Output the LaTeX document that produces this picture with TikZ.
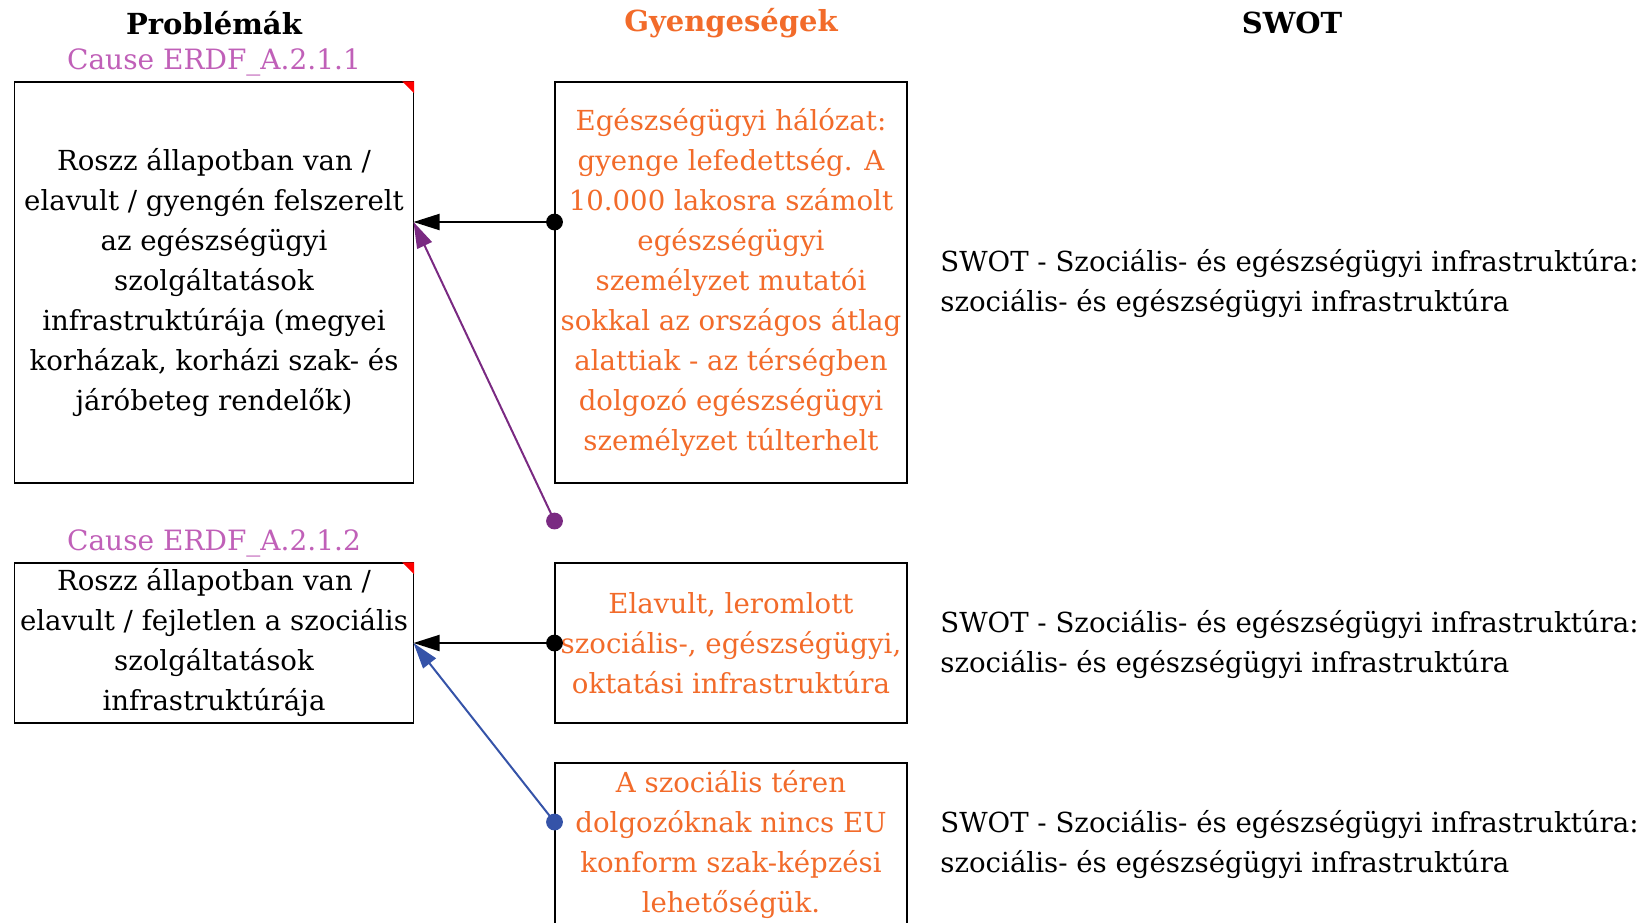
\documentclass[tikz,border=0pt]{standalone}
\usepackage{fontspec}
\setmainfont{DejaVu Serif}
\usetikzlibrary{arrows.meta}
\definecolor{weakorange}{HTML}{F26B2A}
\definecolor{causepink}{HTML}{C060B8}
\definecolor{linkpurple}{HTML}{7A2A82}
\definecolor{linkblue}{HTML}{3553A8}
\begin{document}
\begin{tikzpicture}[x=0.5pt,y=-0.5pt,
  box/.style={draw,line width=0.7pt,inner sep=0pt,align=center,font=\fontsize{13.8}{20}\selectfont},
  probbox/.style={box,minimum width=199.5pt},
  weakbox/.style={box,minimum width=176pt,text=weakorange},
  head/.style={font=\fontsize{14.5}{16}\selectfont\bfseries},
  cause/.style={text=causepink,font=\fontsize{14}{16}\selectfont},
  swot/.style={anchor=west,align=left,inner sep=0pt,font=\fontsize{13.8}{20}\selectfont},
  link/.style={line width=1pt,-{Triangle[length=13pt,width=8pt]}},
  pin/.style={radius=4.2pt}]
\useasboundingbox (0,0) rectangle (1650,922);

% headers
\node[head] (hprob) at (214,23) {Problémák};
\node[head,text=weakorange] (hweak) at (731,23) {Gyengeségek};
\node[head] (hswot) at (1292,23) {SWOT};

% problems
\node[cause] (c1) at (214,62) {Cause ERDF\_A.2.1.1};
\node[probbox,minimum height=200.5pt] (p1) at (214,282.5) {Roszz állapotban van /\\elavult / gyengén felszerelt\\az egészségügyi\\szolgáltatások\\infrastruktúrája (megyei\\korházak, korházi szak- és\\járóbeteg rendelők)};
\node[cause] (c2) at (214,543) {Cause ERDF\_A.2.1.2};
\node[probbox,minimum height=80pt] (p2) at (214,643) {Roszz állapotban van /\\elavult / fejletlen a szociális\\szolgáltatások\\infrastruktúrája};
\fill[red] (p1.north east) -- ++(-12,0) -- ++(12,12) -- cycle;
\fill[red] (p2.north east) -- ++(-12,0) -- ++(12,12) -- cycle;

% weaknesses
\node[weakbox,minimum height=200.5pt] (w1) at (731,282.5) {Egészségügyi hálózat:\\gyenge lefedettség. A\\10.000 lakosra számolt\\egészségügyi\\személyzet mutatói\\sokkal az országos átlag\\alattiak - az térségben\\dolgozó egészségügyi\\személyzet túlterhelt};
\node[weakbox,minimum height=80pt] (w2) at (731,643) {Elavult, leromlott\\szociális-, egészségügyi,\\oktatási infrastruktúra};
\node[weakbox,minimum height=82pt] (w3) at (731,845) {A szociális téren\\dolgozóknak nincs EU\\konform szak-képzési\\lehetőségük.};

% swot
\node[swot] (s1) at (940,284) {SWOT - Szociális- és egészségügyi infrastruktúra:\\szociális- és egészségügyi infrastruktúra};
\node[swot] (s2) at (940,645) {SWOT - Szociális- és egészségügyi infrastruktúra:\\szociális- és egészségügyi infrastruktúra};
\node[swot] (s3) at (940,845) {SWOT - Szociális- és egészségügyi infrastruktúra:\\szociális- és egészségügyi infrastruktúra};

% links
\coordinate (p1pin) at (413.5,222);
\coordinate (p2pin) at (413.5,643);
\coordinate (w1pin) at (554.5,222);
\coordinate (w2pin) at (554.5,643);
\coordinate (w3pin) at (554.5,822);
\coordinate (free1) at (554.5,521);
\draw[link] (w1pin) -- (p1pin);
\draw[link,linkpurple] (free1) -- (p1pin);
\draw[link] (w2pin) -- (p2pin);
\draw[link,linkblue] (w3pin) -- (p2pin);
\fill[pin] (w1pin) circle;
\fill[pin,linkpurple] (free1) circle;
\fill[pin] (w2pin) circle;
\fill[pin,linkblue] (w3pin) circle;
\end{tikzpicture}
\end{document}
